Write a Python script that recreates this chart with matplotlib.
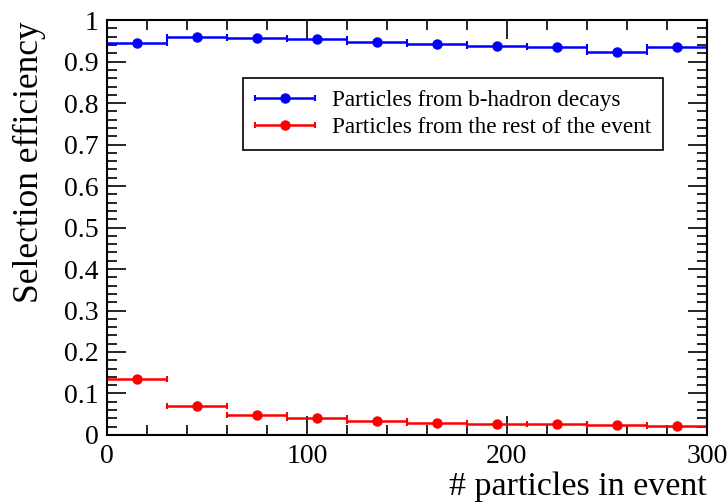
import matplotlib
matplotlib.use("Agg")
import matplotlib.pyplot as plt
from matplotlib.ticker import MultipleLocator
from matplotlib.legend_handler import HandlerErrorbar
from matplotlib.container import ErrorbarContainer

plt.rcParams['font.family'] = ['Liberation Serif', 'DejaVu Serif']

bin_centers = [15, 45, 75, 105, 135, 165, 195, 225, 255, 285]
bin_half_width = 15
eff_b = [0.944, 0.960, 0.957, 0.954, 0.947, 0.942, 0.938, 0.935, 0.924, 0.935]
eff_rest = [0.134, 0.069, 0.048, 0.040, 0.033, 0.030, 0.027, 0.026, 0.024, 0.022]
label_b = "Particles from b-hadron decays"
label_rest = "Particles from the rest of the event"
y_tick_vals = [0, 0.1, 0.2, 0.3, 0.4, 0.5, 0.6, 0.7, 0.8, 0.9, 1.0]
y_tick_labels = ['0', '0.1', '0.2', '0.3', '0.4', '0.5', '0.6', '0.7', '0.8', '0.9', '1']

fig = plt.figure(figsize=(7.28, 5.04), dpi=100)
ax = fig.add_axes([0.147, 0.137, 0.824, 0.823])

ax.errorbar(bin_centers, eff_b, xerr=bin_half_width, fmt='o', color='#0000ff',
            ms=6.5, lw=1.8, capsize=2.5, capthick=1.5, label=label_b)
ax.errorbar(bin_centers, eff_rest, xerr=bin_half_width, fmt='o', color='#ff0000',
            ms=6.5, lw=1.8, capsize=2.5, capthick=1.5, label=label_rest)

ax.set_xlim(0, 300)
ax.set_ylim(0, 1)
ax.xaxis.set_major_locator(MultipleLocator(100))
ax.xaxis.set_minor_locator(MultipleLocator(20))
ax.yaxis.set_minor_locator(MultipleLocator(0.02))
ax.set_yticks(y_tick_vals)
ax.set_yticklabels(y_tick_labels)
ax.tick_params(which='both', direction='in', top=True, right=True, labelsize=20, width=1.2)
ax.tick_params(which='major', length=14)
ax.tick_params(which='minor', length=7)
ax.tick_params(axis='x', pad=6.5)
ax.tick_params(axis='y', pad=6)
for s in ax.spines.values():
    s.set_linewidth(1.5)

ax.set_xlabel("# particles in event", fontsize=24.5, loc='right')
ax.xaxis.set_label_coords(1.0, -0.088)
ax.set_ylabel("Selection efficiency", fontsize=25.5, loc='top')
ax.yaxis.set_label_coords(-0.102, 0.997)

fs = 16.7
hl = 2.59
leg = ax.legend(loc='upper left', bbox_to_anchor=(0.227, 0.861), fontsize=fs,
                frameon=True, fancybox=False, edgecolor='black', framealpha=1,
                handlelength=hl, borderpad=0.5, labelspacing=0.28, handletextpad=0.73,
                borderaxespad=0, numpoints=1,
                handler_map={ErrorbarContainer: HandlerErrorbar(xerr_size=hl * 0.5)})
leg.get_frame().set_linewidth(1.2)

fig.savefig("out.png", dpi=100)
